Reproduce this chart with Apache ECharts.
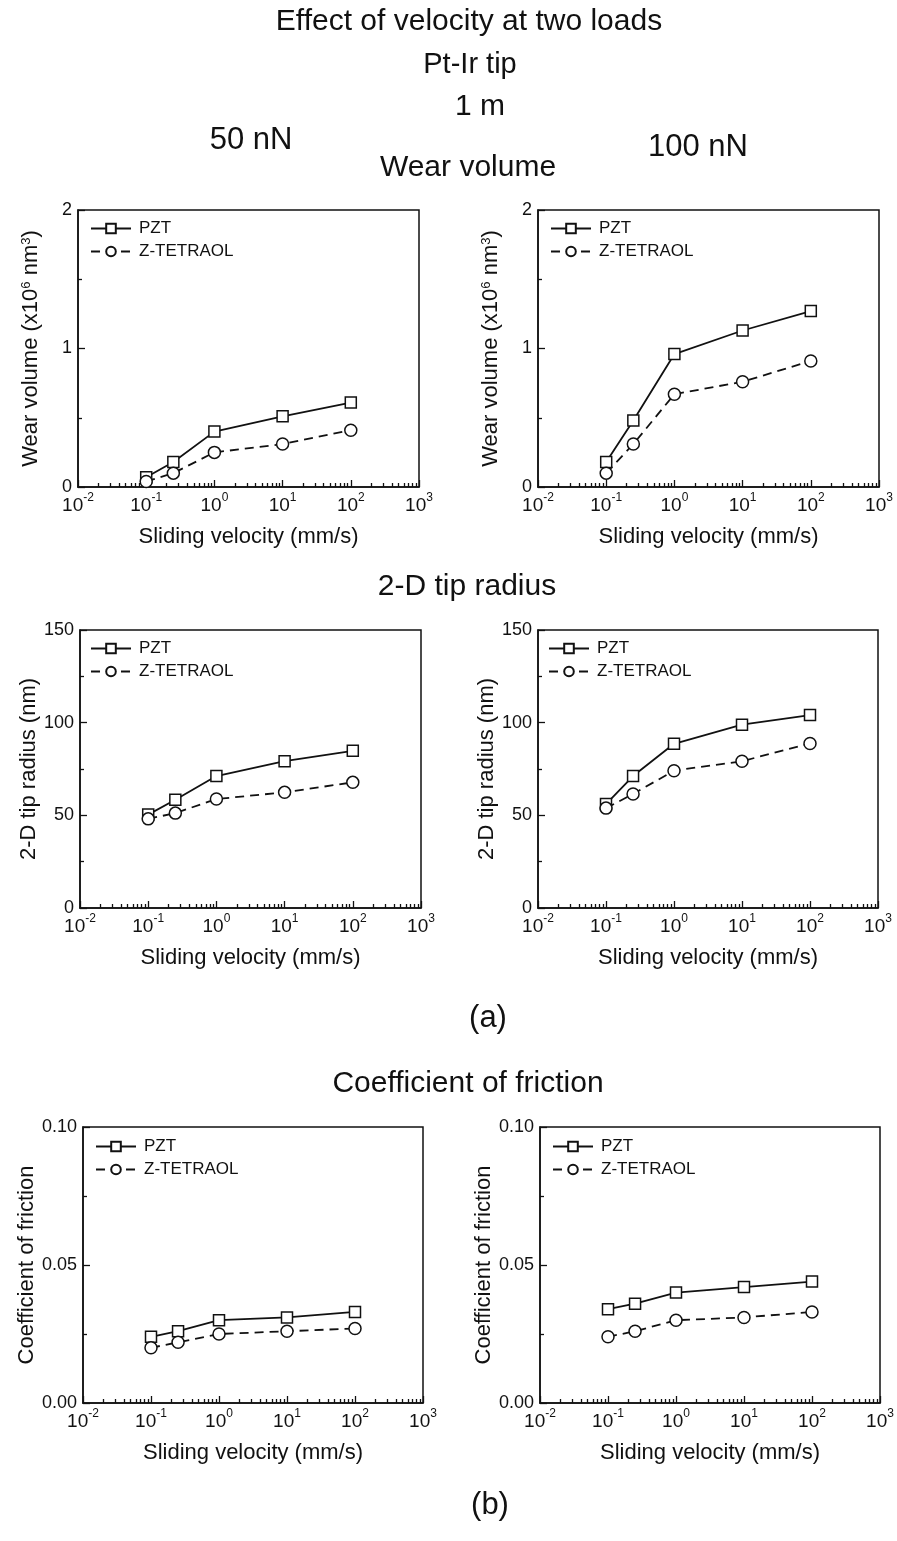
<!DOCTYPE html>
<html>
<head>
<meta charset="utf-8">
<script src="https://cdn.jsdelivr.net/npm/echarts@6/dist/echarts.min.js"></script>
<style>
html,body{margin:0;padding:0;background:#fff;}
#c{width:897px;height:1541px;}
</style>
</head>
<body>
<div id="c"></div>
<script>
// ---- data ----
const velocity = [0.1, 0.25, 1, 10, 100];           // mm/s
const seriesNames = ['PZT', 'Z-TETRAOL'];
// Wear volume (x10^6 nm^3)
const wear50_PZT  = [0.07, 0.18, 0.40, 0.51, 0.61];
const wear50_ZT   = [0.04, 0.10, 0.25, 0.31, 0.41];
const wear100_PZT = [0.18, 0.48, 0.96, 1.13, 1.27];
const wear100_ZT  = [0.10, 0.31, 0.67, 0.76, 0.91];
// 2-D tip radius (nm)
const rad50_PZT  = [50.4, 58.4, 71.2, 79.2, 84.8];
const rad50_ZT   = [48.1, 51.2, 58.8, 62.4, 67.8];
const rad100_PZT = [56.1, 71.2, 88.6, 98.9, 104.1];
const rad100_ZT  = [53.9, 61.5, 74.1, 79.2, 88.8];
// Coefficient of friction
const cof50_PZT  = [0.024, 0.026, 0.030, 0.031, 0.033];
const cof50_ZT   = [0.020, 0.022, 0.025, 0.026, 0.027];
const cof100_PZT = [0.034, 0.036, 0.040, 0.042, 0.044];
const cof100_ZT  = [0.024, 0.026, 0.030, 0.031, 0.033];
// axis ticks
const xMajorTicks = [0.01, 0.1, 1, 10, 100, 1000];
const xMinorTicks = [];
for (let d = -2; d < 3; d++) for (let m = 2; m <= 9; m++) xMinorTicks.push(+(m * Math.pow(10, d)).toPrecision(3));
const xAxisName = 'Sliding velocity (mm/s)';

const FONT = '"Liberation Sans", Arial, Helvetica, sans-serif';
const INK = '#111';

// panel layout
const panels = [
  {grid:{left:78, top:210, width:341, height:277}, yMin:0, yMax:2, yInt:1, dec:0, name:'Wear volume (x10{s|6} nm{s|3})', d:[wear50_PZT, wear50_ZT], leg:{left:90, top:220}},
  {grid:{left:538, top:210, width:341, height:277}, yMin:0, yMax:2, yInt:1, dec:0, name:'Wear volume (x10{s|6} nm{s|3})', d:[wear100_PZT, wear100_ZT], leg:{left:550, top:220}},
  {grid:{left:80, top:630, width:341, height:278}, yMin:0, yMax:150, yInt:50, dec:0, name:'2-D tip radius (nm)', d:[rad50_PZT, rad50_ZT], leg:{left:90, top:640}},
  {grid:{left:538, top:630, width:340, height:278}, yMin:0, yMax:150, yInt:50, dec:0, name:'2-D tip radius (nm)', d:[rad100_PZT, rad100_ZT], leg:{left:548, top:640}},
  {grid:{left:83, top:1127, width:340, height:276}, yMin:0, yMax:0.10, yInt:0.05, dec:2, name:'Coefficient of friction', d:[cof50_PZT, cof50_ZT], leg:{left:95, top:1138}},
  {grid:{left:540, top:1127, width:340, height:276}, yMin:0, yMax:0.10, yInt:0.05, dec:2, name:'Coefficient of friction', d:[cof100_PZT, cof100_ZT], leg:{left:552, top:1138}}
];

const grid = [], xAxis = [], yAxis = [], series = [], legend = [];
panels.forEach((p, i) => {
  grid.push(Object.assign({show:true, borderColor:INK, borderWidth:1.5, backgroundColor:'transparent', outerBoundsMode:'none', containLabel:false}, p.grid));
  // main x axis (decades)
  xAxis.push({
    type:'log', logBase:10, gridIndex:i, min:0.01, max:1000,
    name:xAxisName, nameLocation:'middle', nameGap:39,
    nameTextStyle:{fontFamily:FONT, fontSize:22, color:INK},
    axisLine:{show:true, lineStyle:{color:INK, width:1.5}},
    axisTick:{show:true, inside:true, length:7, lineStyle:{color:INK, width:1.3}, customValues:xMajorTicks},
    axisLabel:{show:true, margin:5, customValues:xMajorTicks, color:INK, fontFamily:FONT,
      formatter: v => '{b|10}{s|' + Math.round(Math.log10(v)) + '}',
      rich:{b:{fontSize:19, lineHeight:23, verticalAlign:'bottom', fontFamily:FONT, color:INK},
            s:{fontSize:12, lineHeight:12, verticalAlign:'top', fontFamily:FONT, color:INK}}},
    splitLine:{show:false}, minorTick:{show:false}
  });
  yAxis.push({
    type:'value', gridIndex:i, min:p.yMin, max:p.yMax, interval:p.yInt,
    name:p.name, nameLocation:'middle', nameRotate:90, nameGap:p.dec ? 43 : 36,
    nameTextStyle:{fontFamily:FONT, fontSize:22, color:INK,
      rich:{s:{fontSize:13, verticalAlign:'top', lineHeight:10, fontFamily:FONT, color:INK}}},
    axisLine:{show:true, lineStyle:{color:INK, width:1.5}},
    axisTick:{show:true, inside:true, length:7, lineStyle:{color:INK, width:1.3}},
    minorTick:{show:true, splitNumber:2, length:4, lineStyle:{color:INK, width:1.3}},
    axisLabel:{margin:6, color:INK, fontFamily:FONT, fontSize:18,
      formatter: v => v.toFixed(p.dec)},
    splitLine:{show:false}
  });
  const mk = (k, di) => ({
    type:'line', name:seriesNames[k], xAxisIndex:i, yAxisIndex:i,
    data: velocity.map((v, j) => [v, di[j]]),
    symbol: k === 0 ? 'rect' : 'circle', symbolSize: k === 0 ? 11 : 12,
    showAllSymbol:true, animation:false,
    lineStyle:{color:INK, width:1.8, type: k === 0 ? 'solid' : [9, 6]},
    itemStyle:{color:'#fff', borderColor:INK, borderWidth:1.5},
    emphasis:{disabled:true}
  });
  series.push(mk(0, p.d[0]), mk(1, p.d[1]));
  legend.push({
    data:seriesNames, orient:'vertical', left:p.leg.left, top:p.leg.top, padding:0,
    itemWidth:40, itemHeight:12, itemGap:6, selectedMode:false,
    textStyle:{fontFamily:FONT, fontSize:17, color:INK, padding:[0,0,0,3]}
  });
});
// minor x ticks (2..9 in each decade)
panels.forEach((p, i) => {
  xAxis.push({
    type:'log', logBase:10, gridIndex:i, min:0.01, max:1000, position:'bottom',
    axisLine:{show:false}, axisLabel:{show:false},
    axisTick:{show:true, inside:true, length:4, lineStyle:{color:INK, width:1.3}, customValues:xMinorTicks},
    splitLine:{show:false}
  });
});

const headings = [
  ['Effect of velocity at two loads', 469, 22, 30],
  ['Pt-Ir tip', 470, 65, 29],
  ['1 m', 480, 107, 30],
  ['50 nN', 251, 140, 31],
  ['100 nN', 698, 147, 31],
  ['Wear volume', 468, 168, 30],
  ['2-D tip radius', 467, 587, 30],
  ['(a)', 488, 1018, 31],
  ['Coefficient of friction', 468, 1084, 30],
  ['(b)', 490, 1505, 31]
];
const graphic = headings.map(h => ({
  type:'text', x:h[1], y:h[2], silent:true,
  style:{text:h[0], fontFamily:FONT, fontSize:h[3], fill:INK, textAlign:'center', textVerticalAlign:'middle'}
}));

const chart = echarts.init(document.getElementById('c'), null, {renderer:'canvas'});
chart.setOption({
  animation:false, backgroundColor:'#fff',
  grid, xAxis, yAxis, series, legend, graphic
});
</script>
</body>
</html>
